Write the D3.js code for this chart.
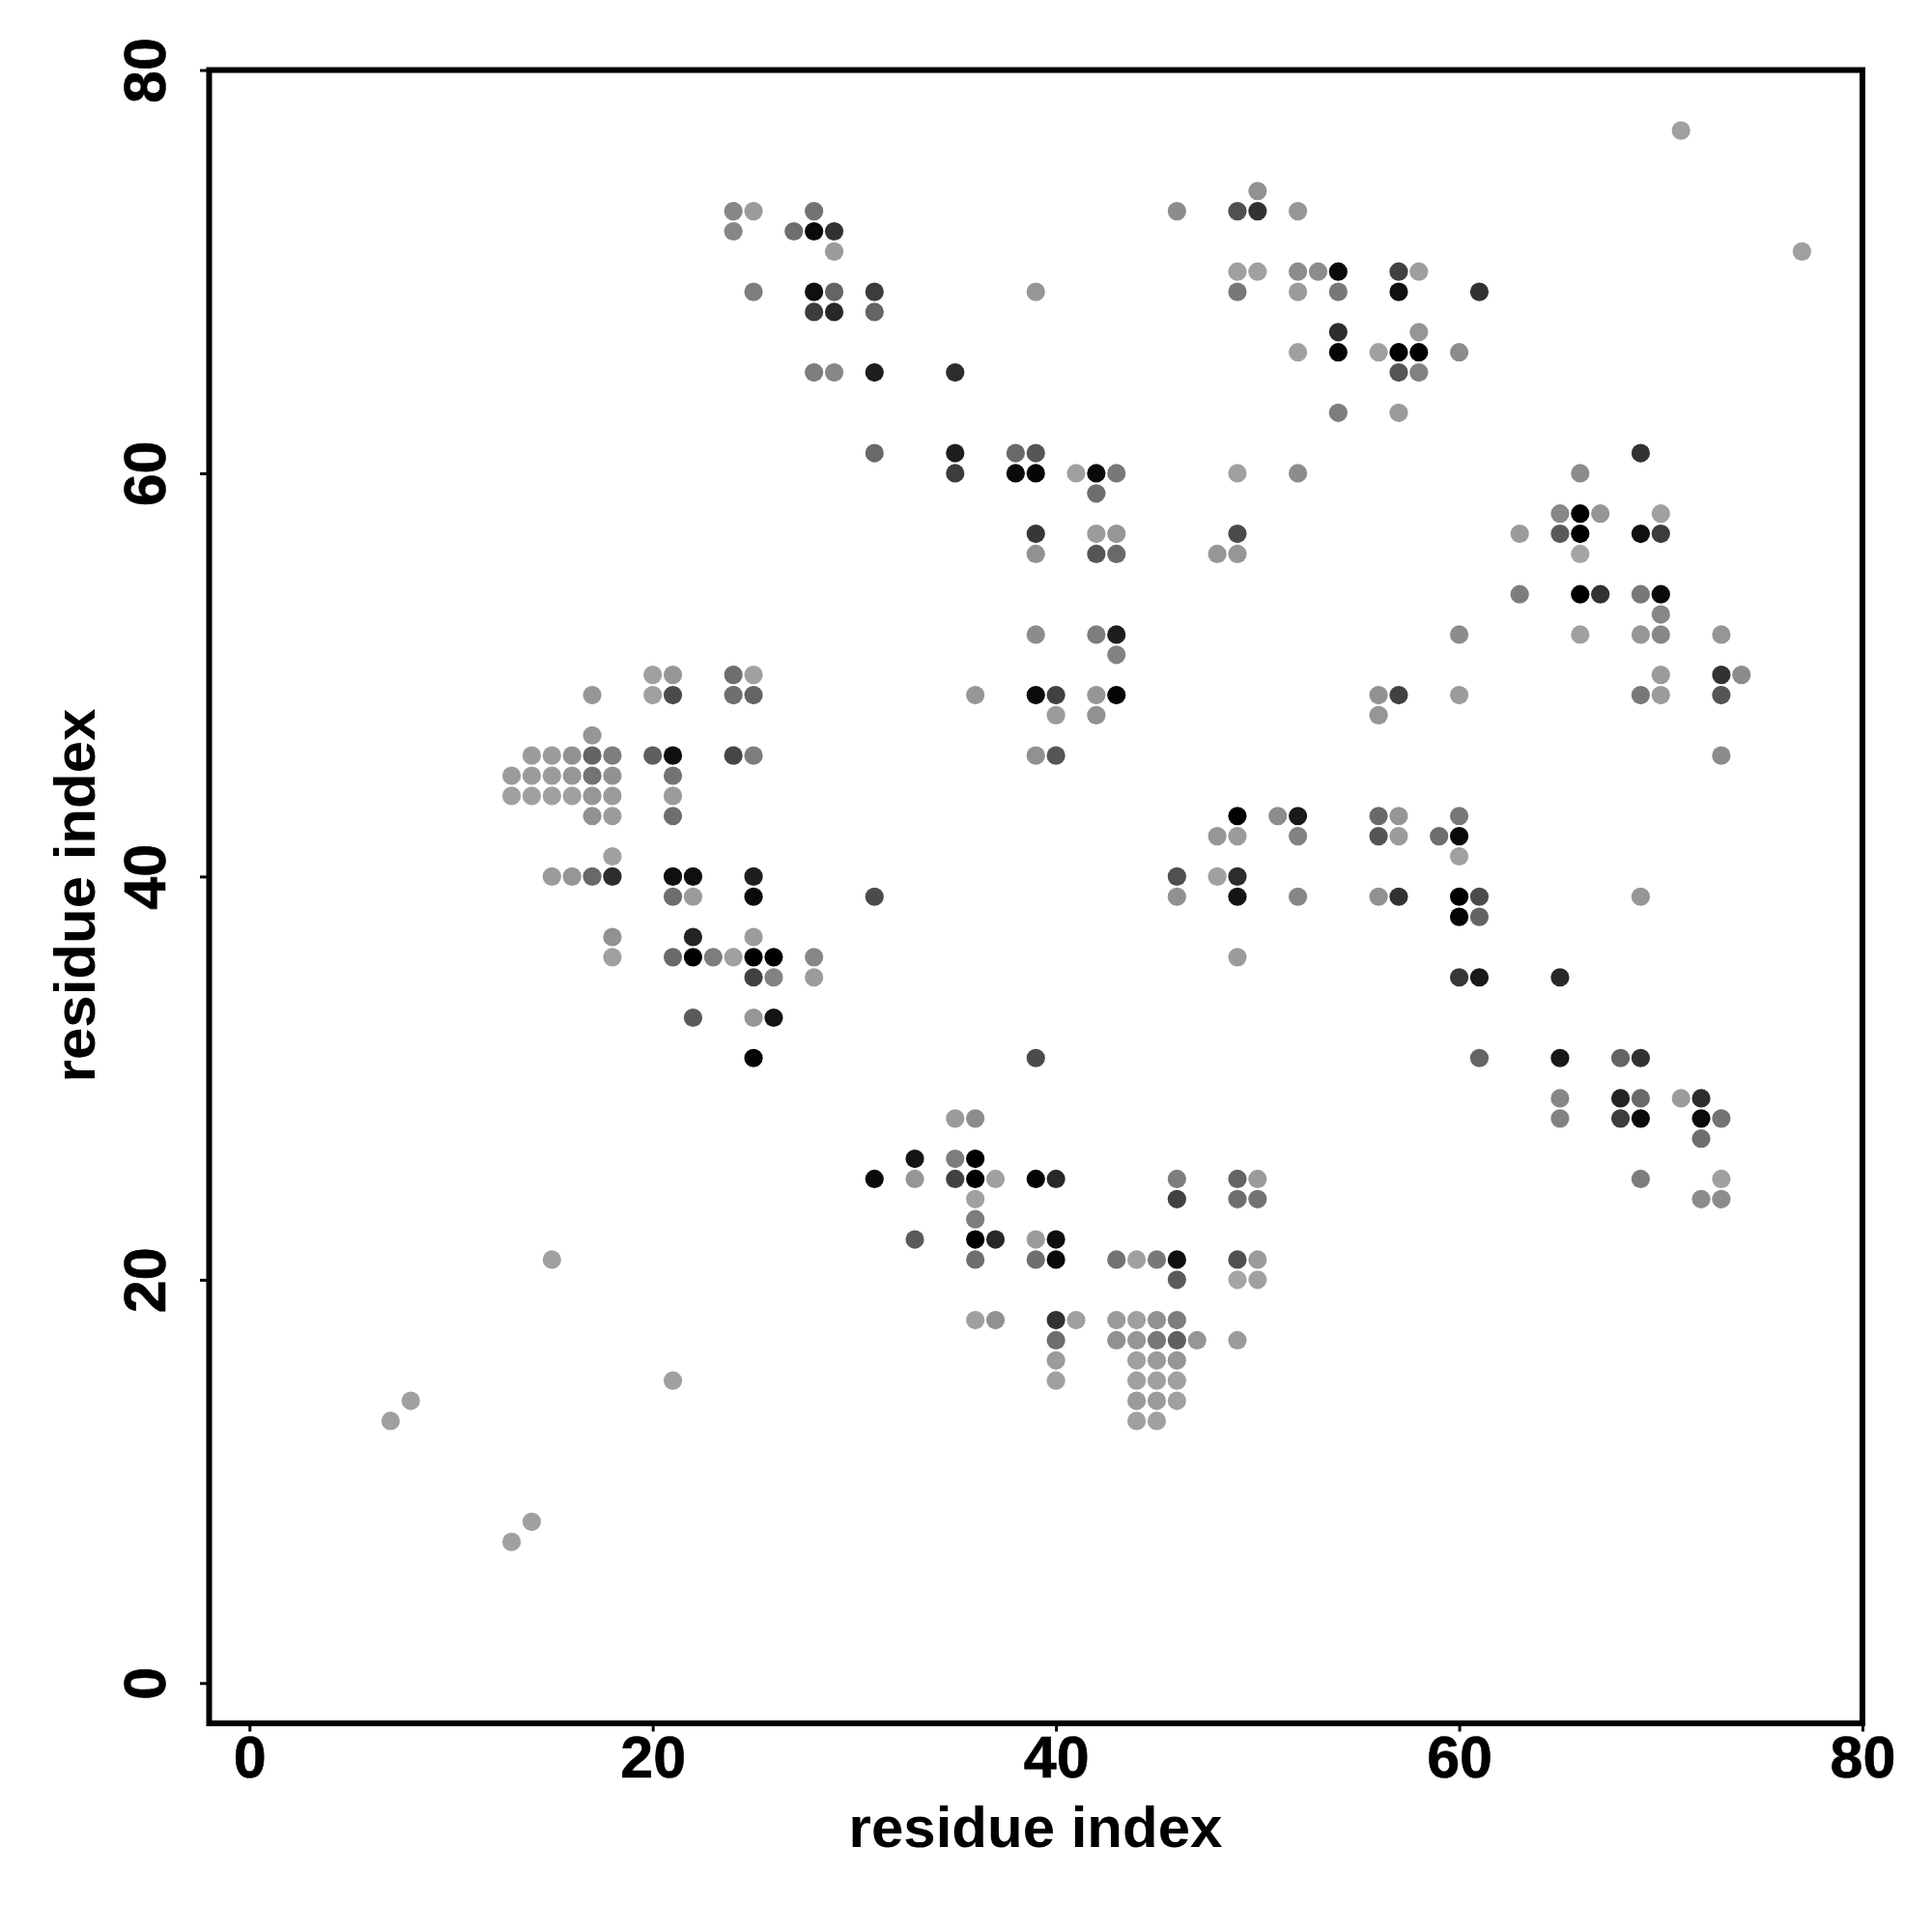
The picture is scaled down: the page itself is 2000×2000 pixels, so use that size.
<!DOCTYPE html>
<html><head><meta charset="utf-8">
<script src="https://cdn.jsdelivr.net/npm/d3@7"></script>
<style>html,body{margin:0;background:#fff}svg{display:block}</style></head>
<body><div id="chart"></div>
<script>
const tickValues = [0, 20, 40, 60, 80];
const xTitle = "residue index";
const yTitle = "residue index";
const rowY = [77,74,73,72,71,70,69,68,67,66,65,63,61,60,59,58,57,56,54,53,52,51,50,49,48,47,46,45,44,43,42,41,40,39,38,37,36,35,33,31,29,28,27,26,25,24,23,22,21,20,18,17,16,15,14,13,8,7];
const rowX = [
[71],[50],[24,25,28,46,49,50,52],[24,27,28,29],[29,77],[49,50,52,53,54,57,58],
[25,28,29,31,39,49,52,54,57,61],[28,29,31],[54,58],[52,54,56,57,58,60],
[28,29,31,35,57,58],[54,57],[31,35,38,39,69],[35,38,39,41,42,43,49,52,66],[42],
[65,66,67,70],[39,42,43,49,63,65,66,69,70],[39,42,43,48,49,66],[63,66,67,69,70],[70],
[39,42,43,60,66,69,70,73],[43],[20,21,24,25,70,73,74],
[17,20,21,24,25,36,39,40,42,43,56,57,60,69,70,73],[40,42,56],[17],
[14,15,16,17,18,20,21,24,25,39,40,73],[13,14,15,16,17,18,21],[13,14,15,16,17,18,21],
[17,18,21,49,51,52,56,57,60],[48,49,52,56,57,59,60],[18,60],
[15,16,17,18,21,22,25,46,48,49],[21,22,25,31,46,49,52,56,57,60,61,69],[60,61],[18,22,25],
[18,21,22,23,24,25,26,28,49],[25,26,28,60,61,65],[22,25,26],[25,39,61,65,68,69],
[65,68,69,71,72],[35,36,65,68,69,72,73],[72],[33,35,36],
[31,33,35,36,37,39,40,46,49,50,69,73],[36,46,49,50,72,73],[36],[33,36,37,39,40],
[15,36,39,40,43,44,45,46,49,50],[46,49,50],[36,37,40,41,43,44,45,46],
[40,43,44,45,46,47,49],[40,44,45,46],[21,40,44,45,46],[8,44,45,46],[7,44,45],[14],[13]
];
const rowShade = [
[160],[145],[135,155,115,140,80,50,150],[135,110,10,50],[155,160],[160,160,140,140,10,65,158],
[125,15,100,60,150,120,155,120,15,50],[60,40,100],[45,150],[160,5,160,0,0,140],
[125,135,30,45,85,130],[125,155],[105,30,105,85,50],[60,10,5,160,10,120,160,140,140],[110],
[135,0,150,160],[55,155,150,75,155,90,0,15,60],[145,85,105,150,150,165],[125,0,50,120,10],[135],
[140,125,30,140,160,150,135,150],[130],[160,150,110,160,155,50,140],
[150,160,75,110,100,150,10,65,150,5,145,65,155,120,155,85],[155,145,150],[150],
[155,155,145,100,125,95,15,70,125,145,85,140],[155,155,155,150,115,145,115],[160,160,160,160,150,155,155],
[145,155,110,0,140,25,105,150,120],[150,155,130,85,155,110,10],[160,160],
[155,150,105,45,15,15,30,80,160,45],[110,155,10,75,145,20,135,145,50,0,75,150],[5,100],[145,35,155],
[160,105,0,125,160,0,0,135,155],[65,130,155,55,25,40],[90,150,20],[5,75,100,25,100,50],
[135,35,105,155,45],[155,140,130,60,10,10,115],[110],[20,125,0],
[10,150,65,0,160,5,40,125,100,155,125,160],[160,65,110,115,140,140],[125],[90,0,40,155,15],
[160,110,110,10,115,160,120,15,80,155],[90,165,160],[160,145,50,160,155,160,145,125],
[110,145,150,120,95,150,155],[155,160,155,150],[160,160,160,160,160],[160,155,155,160],[160,160,160],[160],[160]
];

const points = rowY.flatMap((y, i) => rowX[i].map((x, j) => ({x, y, shade: rowShade[i][j]})));

const svg = d3.select("#chart").append("svg").attr("width", 2000).attr("height", 2000);
const x = d3.scaleLinear().domain([-2, 80]).range([216.5, 1928]);
const y = d3.scaleLinear().domain([-2, 80]).range([1784, 72.5]);
const font = "'Liberation Sans', Arial, sans-serif";

svg.append("g").selectAll("circle").data(points).join("circle")
  .attr("cx", d => x(d.x)).attr("cy", d => y(d.y)).attr("r", 9.6)
  .attr("fill", d => d3.rgb(d.shade, d.shade, d.shade).formatHex());

const gx = svg.append("g").attr("transform", "translate(0,1784)")
  .call(d3.axisBottom(x).tickValues(tickValues).tickSize(8.5).tickPadding(0).tickFormat(d3.format("d")));
const gy = svg.append("g").attr("transform", "translate(216.5,0)")
  .call(d3.axisLeft(y).tickValues(tickValues).tickSize(9.5).tickPadding(0).tickFormat(d3.format("d")));
[gx, gy].forEach(g => {
  g.select(".domain").remove();
  g.selectAll("line").attr("stroke", "#000").attr("stroke-width", 3);
  g.selectAll("text").attr("fill", "#000").attr("font-family", font).attr("font-weight", "bold")
    .attr("font-size", 61).attr("stroke", "#000").attr("stroke-width", 0.6);
});
gx.selectAll("text").attr("y", 56).attr("dy", null).attr("text-anchor", "middle");
gy.selectAll("text").attr("x", null).attr("dy", null).attr("y", null).attr("text-anchor", "middle")
  .attr("transform", "translate(-45.5,0) rotate(-90)");

svg.append("rect").attr("x", x(-2)).attr("y", y(80)).attr("width", x(80) - x(-2)).attr("height", y(-2) - y(80))
  .attr("fill", "none").attr("stroke", "#000").attr("stroke-width", 6);

svg.append("text").attr("x", 1072).attr("y", 1912).attr("text-anchor", "middle")
  .attr("font-family", font).attr("font-weight", "bold").attr("font-size", 60).text(xTitle);
svg.append("text").attr("transform", "translate(98,927) rotate(-90)").attr("text-anchor", "middle")
  .attr("font-family", font).attr("font-weight", "bold").attr("font-size", 60).text(yTitle);
</script></body></html>
